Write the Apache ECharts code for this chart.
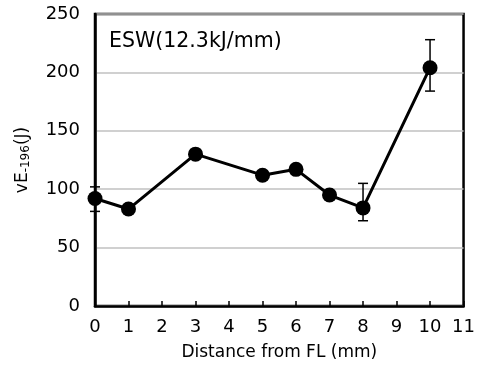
<!DOCTYPE html>
<html><head><meta charset="utf-8">
<script src="https://cdn.jsdelivr.net/npm/echarts@6/dist/echarts.min.js"></script>
<style>html,body{margin:0;padding:0;background:#fff}#c{width:478px;height:367px}</style>
</head><body><div id="c"></div>
<script>
const distances = [0, 1, 3, 5, 6, 7, 8, 10];
const energy = [92, 83, 130, 112, 117, 95, 84, 204];
const errLow = [81, null, null, null, null, null, 73, 184];
const errHigh = [102, null, null, null, null, null, 105, 228];
const annotation = 'ESW(12.3kJ/mm)';

const FONT = '"DejaVu Sans", Verdana, sans-serif';
const chart = echarts.init(document.getElementById('c'));
const errData = distances.map((d, i) => [d, errLow[i], errHigh[i]]).filter(r => r[1] != null);

chart.setOption({
  animation: false,
  grid: { left: 95, right: 13, top: 14, bottom: 61, show: true, borderColor: '#000', borderWidth: 2.5 },
  xAxis: {
    type: 'value', min: 0, max: 11, interval: 1,
    name: 'Distance from FL (mm)', nameLocation: 'middle', nameGap: 38,
    nameTextStyle: { fontFamily: FONT, fontSize: 17, color: '#000' },
    axisLine: { lineStyle: { color: '#000', width: 2.5 } },
    axisTick: { inside: true, length: 5, lineStyle: { color: '#000', width: 1.5 } },
    axisLabel: { fontFamily: FONT, fontSize: 18, color: '#000', margin: 12 },
    splitLine: { show: false }
  },
  yAxis: {
    type: 'value', min: 0, max: 250, interval: 50,
    name: '{a|vE}{b|-196}{a|(J)}', nameLocation: 'middle', nameGap: 63, nameRotate: 90,
    nameTextStyle: { rich: {
      a: { fontFamily: FONT, fontSize: 17, color: '#000' },
      b: { fontFamily: FONT, fontSize: 12, color: '#000', verticalAlign: 'bottom', padding: [6, 0, 0, 0] }
    } },
    axisLine: { lineStyle: { color: '#000', width: 2.5 } },
    axisTick: { show: false },
    axisLabel: { fontFamily: FONT, fontSize: 18, color: '#000', margin: 15 },
    splitLine: { lineStyle: { color: '#c0c0c0', width: 1.5 } }
  },
  graphic: [{
    type: 'text', left: 109, top: 31,
    style: { text: annotation, fontFamily: FONT, fontSize: 20.5, fill: '#000' }
  }],
  series: [{
    type: 'line', data: distances.map((d, i) => [d, energy[i]]),
    symbol: 'circle', symbolSize: 15,
    lineStyle: { color: '#000', width: 3 },
    itemStyle: { color: '#000' }, z: 3
  }, {
    type: 'custom', data: errData, z: 2,
    renderItem: function (params, api) {
      const x = api.value(0);
      const lo = api.coord([x, api.value(1)]);
      const hi = api.coord([x, api.value(2)]);
      const w = 5;
      const st = { stroke: '#000', lineWidth: 1.5 };
      return { type: 'group', children: [
        { type: 'line', shape: { x1: lo[0], y1: lo[1], x2: hi[0], y2: hi[1] }, style: st },
        { type: 'line', shape: { x1: lo[0] - w, y1: lo[1], x2: lo[0] + w, y2: lo[1] }, style: st },
        { type: 'line', shape: { x1: hi[0] - w, y1: hi[1], x2: hi[0] + w, y2: hi[1] }, style: st }
      ] };
    }
  }]
});
</script></body></html>
